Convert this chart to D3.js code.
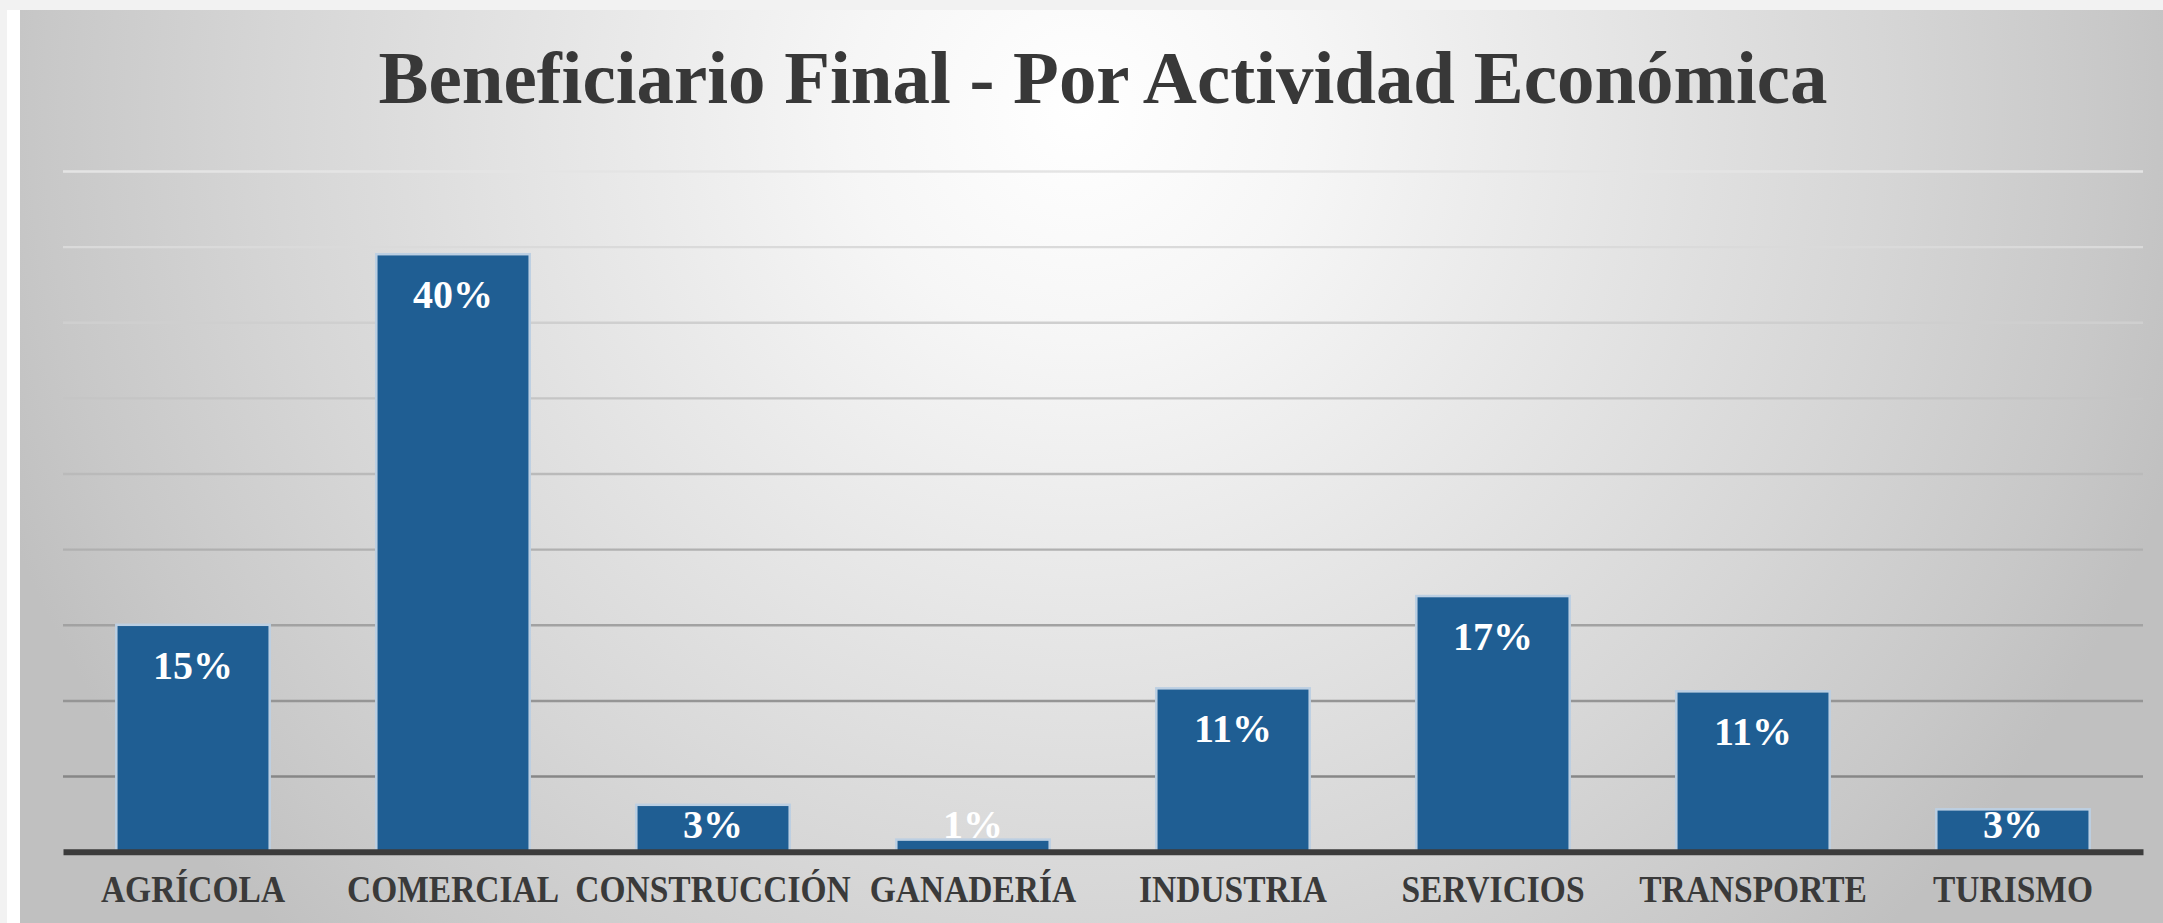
<!DOCTYPE html>
<html lang="es">
	<head>
		<meta charset="utf-8">
		<title>Beneficiario Final - Por Actividad Económica</title>
		<style>
			body {
				margin: 0;
				background: #f2f2f2;
			}
			#graph text {
				font-family: "Liberation Serif", "Times New Roman", serif;
			}
		</style>
	</head>
	<body>

		<svg id="graph"></svg>

		<script src="https://d3js.org/d3.v7.min.js"></script>
		<script>
			"use strict";

			var categories = ["AGRÍCOLA", "COMERCIAL", "CONSTRUCCIÓN", "GANADERÍA", "INDUSTRIA", "SERVICIOS", "TRANSPORTE", "TURISMO"];
			var values = [0.150, 0.395, 0.031, 0.008, 0.108, 0.169, 0.106, 0.028];
			var labels = ["15%", "40%", "3%", "1%", "11%", "17%", "11%", "3%"];
			var title = "Beneficiario Final - Por Actividad Económica";

			var W = 2163, H = 923;
			var plotLeft = 63, plotRight = 2143, plotTop = 171, plotBottom = 851.7;

			var svg = d3.select("#graph")
				.attr("width", W)
				.attr("height", H)
				.style("display", "block");

			var defs = svg.append("defs");

			// fondo radial como el de Excel
			var bg = defs.append("radialGradient")
				.attr("id", "bg")
				.attr("gradientUnits", "userSpaceOnUse")
				.attr("cx", 1080).attr("cy", 110).attr("r", 1150);
			[[0, "#ffffff"], [0.2, "#f6f6f6"], [0.45, "#e6e6e6"], [0.7, "#d6d6d6"], [0.9, "#c8c8c8"], [1, "#c0c0c0"]]
				.forEach(function(s){
					bg.append("stop").attr("offset", s[0]).attr("stop-color", s[1]);
				});

			svg.append("rect")
				.attr("x", 7).attr("y", 10)
				.attr("width", W - 7).attr("height", H - 10)
				.attr("fill", "#ffffff");
			svg.append("rect")
				.attr("x", 20).attr("y", 10)
				.attr("width", W - 20).attr("height", H - 10)
				.attr("fill", "url(#bg)");

			var x = d3.scaleBand()
				.domain(categories)
				.range([plotLeft, plotRight])
				.paddingInner(0.41)
				.paddingOuter(0.205);

			var y = d3.scaleLinear()
				.domain([0, 0.45])
				.range([plotBottom, plotTop]);

			// las lineas se aclaran hacia arriba
			var gridColor = d3.scaleLinear()
				.domain([0.05, 0.2, 0.45])
				.range(["#878787", "#b0b0b0", "#e4e4e4"]);

			svg.append("g")
				.attr("transform", "translate(" + plotLeft + ",0)")
				.call(d3.axisLeft(y).ticks(9).tickSize(-(plotRight - plotLeft)).tickFormat(""))
				.call(function(g){
					g.select(".domain").remove();
					g.selectAll(".tick line")
						.attr("stroke", function(d){ return gridColor(d); })
						.attr("stroke-width", 2.4);
					g.selectAll(".tick").filter(function(d){ return d === 0; }).remove();
				});

			svg.append("g")
				.selectAll("rect")
				.data(values)
				.enter()
				.append("rect")
				.attr("x", function(d, i){ return x(categories[i]); })
				.attr("y", function(d){ return y(d); })
				.attr("width", x.bandwidth())
				.attr("height", function(d){ return y(0) - y(d); })
				.attr("fill", "#1f5e93")
				.attr("stroke", "#bccfe2")
				.attr("stroke-width", 2.5);

			// eje x
			svg.append("g")
				.attr("transform", "translate(0," + plotBottom + ")")
				.call(d3.axisBottom(x).tickSize(0).tickPadding(0))
				.call(function(g){
					g.select(".domain")
						.attr("stroke", "#3c3c3c")
						.attr("stroke-width", 6);
					g.selectAll(".tick text")
						.attr("dy", null)
						.attr("y", 0)
						.attr("transform", "translate(0,50) scale(1,1.12)")
						.attr("fill", "#3a3a3a")
						.attr("font-size", 33.5)
						.attr("font-weight", "bold")
						.attr("font-family", "Liberation Serif, serif");
				});

			svg.append("g")
				.selectAll("text")
				.data(values)
				.enter()
				.append("text")
				.attr("x", function(d, i){ return x(categories[i]) + x.bandwidth() / 2; })
				.attr("y", function(d){ return Math.min(y(d) + 54, y(0) - 14); })
				.attr("text-anchor", "middle")
				.attr("fill", "#ffffff")
				.attr("font-size", 40)
				.attr("font-weight", "bold")
				.text(function(d, i){ return labels[i]; });

			svg.append("text")
				.attr("x", (plotLeft + plotRight) / 2)
				.attr("y", 103)
				.attr("text-anchor", "middle")
				.attr("fill", "#383838")
				.attr("font-size", 73)
				.attr("font-weight", "bold")
				.attr("textLength", 1449)
				.attr("lengthAdjust", "spacingAndGlyphs")
				.text(title);

		</script>
	</body>
</html>
